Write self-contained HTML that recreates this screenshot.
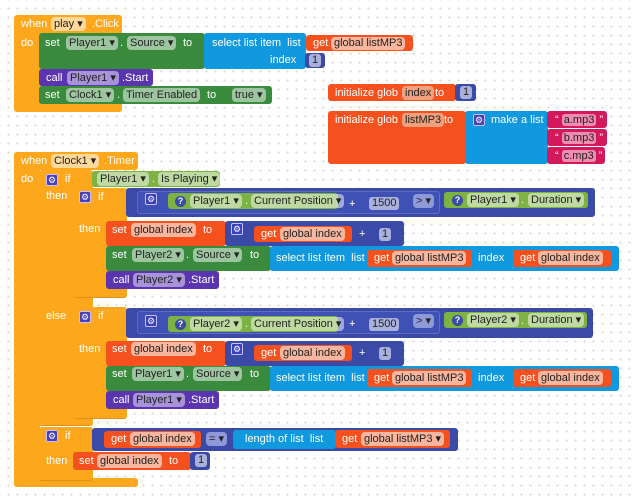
<!DOCTYPE html>
<html><head><meta charset="utf-8"><style>
body{margin:0;width:637px;height:496px;overflow:hidden;background:#fff;
background-image:radial-gradient(circle,#d6d6d6 0.8px,transparent 1.2px);background-size:9px 9px;background-position:4px 4px;
font-family:"Liberation Sans",Arial,sans-serif;position:relative}
.b{position:absolute;border-radius:3px}
.o{background:#fda81c}
.g{background:#3a8b3e}
.lg{background:#7cb342}
.bl{background:#1199e0}
.r{background:#f4511e}
.db{background:#3a4aa6}
.db2{background:#3f51b5;border:1px solid #5c6bc0;box-sizing:border-box}
.p{background:#5b35b0}
.pk{background:#d3195c}
.t{position:absolute;color:#fff;font-size:11px;line-height:14px;white-space:nowrap}
.f{position:absolute;background:rgba(255,255,255,.5);border-radius:4px;color:#222;font-size:11px;line-height:14px;padding:0 3px;white-space:nowrap}
.n{position:absolute;background:#aab0dc;border-radius:3px;color:#222;font-size:11px;line-height:13px;padding:0 3px}
.gear{position:absolute;width:12px;height:12px;background:#4a3fb5;border:1px solid #c9c0ff;border-radius:2px;box-sizing:border-box;color:#fff;font-size:9px;line-height:10px;text-align:center}
.q{position:absolute;width:11px;height:11px;border-radius:50%;background:#3a4aa6;color:#fff;font-size:9px;line-height:11px;text-align:center;font-weight:bold}
</style></head><body>

<!-- when play.Click -->
<div class="b o" style="left:14px;top:15px;width:108px;height:97px"></div>
<div class="t" style="left:21px;top:17px">when</div>
<div class="f" style="left:51px;top:17px;background:#ffd89a">play ▾</div>
<div class="t" style="left:92px;top:17px">.Click</div>
<div class="t" style="left:21px;top:36px">do</div>
<div class="b g" style="left:39px;top:33px;width:166px;height:36px"></div>
<div class="t" style="left:45px;top:36px">set</div>
<div class="f" style="left:66px;top:36px">Player1 ▾</div>
<div class="t" style="left:120px;top:36px">.</div>
<div class="f" style="left:127px;top:36px">Source ▾</div>
<div class="t" style="left:183px;top:36px">to</div>
<div class="b bl" style="left:204px;top:33px;width:102px;height:36px"></div>
<div class="t" style="left:212px;top:36px">select list item &nbsp;list</div>
<div class="t" style="left:270px;top:53px">index</div>
<div class="b r" style="left:306px;top:35px;width:107px;height:16px"></div>
<div class="t" style="left:313px;top:36px">get</div>
<div class="f" style="left:331px;top:37px;background:#f9b69e;line-height:13px">global listMP3</div>
<div class="b db" style="left:305px;top:53px;width:20px;height:15px"></div>
<div class="n" style="left:309px;top:54px">1</div>
<div class="b p" style="left:39px;top:69px;width:114px;height:17px"></div>
<div class="t" style="left:46px;top:71px">call</div>
<div class="f" style="left:67px;top:71px;background:#a893d8">Player1 ▾</div>
<div class="t" style="left:122px;top:71px">.Start</div>
<div class="b g" style="left:39px;top:86px;width:233px;height:18px"></div>
<div class="t" style="left:45px;top:88px">set</div>
<div class="f" style="left:66px;top:88px">Clock1 ▾</div>
<div class="t" style="left:117px;top:88px">.</div>
<div class="f" style="left:123px;top:88px">Timer Enabled</div>
<div class="t" style="left:207px;top:88px">to</div>
<div class="f" style="left:232px;top:88px">true ▾</div>

<!-- globals -->
<div class="b r" style="left:328px;top:84px;width:128px;height:17px"></div>
<div class="t" style="left:335px;top:86px">initialize glob</div>
<div class="f" style="left:402px;top:86px;background:#f0a07c">index</div>
<div class="t" style="left:435px;top:86px">to</div>
<div class="b db" style="left:455px;top:84px;width:21px;height:17px"></div>
<div class="n" style="left:460px;top:86px">1</div>

<div class="b r" style="left:328px;top:111px;width:138px;height:53px"></div>
<div class="t" style="left:335px;top:113px">initialize glob</div>
<div class="f" style="left:402px;top:113px;background:#f0a07c">listMP3</div>
<div class="t" style="left:444px;top:113px">to</div>
<div class="b bl" style="left:465px;top:111px;width:83px;height:53px"></div>
<div class="gear" style="left:473px;top:114px">⚙</div>
<div class="t" style="left:491px;top:113px">make a list</div>
<div class="b pk" style="left:547px;top:111px;width:60px;height:17px"></div>
<div class="b pk" style="left:547px;top:129px;width:60px;height:17px"></div>
<div class="b pk" style="left:547px;top:147px;width:58px;height:17px"></div>
<div class="t" style="left:555px;top:113px">“ <span style="background:#f08cb0;color:#222;border-radius:3px;padding:0 2px">a.mp3</span> ”</div>
<div class="t" style="left:555px;top:131px">“ <span style="background:#f08cb0;color:#222;border-radius:3px;padding:0 2px">b.mp3</span> ”</div>
<div class="t" style="left:555px;top:149px">“ <span style="background:#f08cb0;color:#222;border-radius:3px;padding:0 2px">c.mp3</span> ”</div>

<!-- when Clock1.Timer -->
<div class="b o" style="left:14px;top:152px;width:124px;height:18px"></div>
<div class="b o" style="left:14px;top:152px;width:26px;height:335px"></div>
<div class="b o" style="left:14px;top:478px;width:124px;height:9px"></div>
<div class="t" style="left:21px;top:154px">when</div>
<div class="f" style="left:51px;top:154px;background:#ffd89a">Clock1 ▾</div>
<div class="t" style="left:104px;top:154px">.Timer</div>
<div class="t" style="left:21px;top:172px">do</div>

<!-- main if/else -->
<div class="b o" style="left:39px;top:170px;width:54px;height:255px;border-bottom:1px solid #e0911a"></div>
<div class="gear" style="left:46px;top:174px">⚙</div>
<div class="t" style="left:65px;top:172px">if</div>
<div class="t" style="left:46px;top:189px">then</div>
<div class="t" style="left:46px;top:309px">else</div>
<div class="b lg" style="left:92px;top:171px;width:128px;height:16px"></div>
<div class="f" style="left:97px;top:172px">Player1 ▾</div>
<div class="t" style="left:152px;top:172px">.</div>
<div class="f" style="left:158px;top:172px">Is Playing ▾</div>

<!-- nested if 1 -->
<div class="b o" style="left:73px;top:188px;width:54px;height:109px;border-bottom:1px solid #e0911a"></div>
<div class="gear" style="left:79px;top:191px">⚙</div>
<div class="t" style="left:98px;top:190px">if</div>
<div class="t" style="left:79px;top:222px">then</div>
<div class="b db" style="left:126px;top:188px;width:469px;height:29px"></div>
<div class="b db2" style="left:137px;top:191px;width:303px;height:23px"></div>
<div class="gear" style="left:145px;top:193px;background:#3a3fc0">⚙</div>
<div class="b lg" style="left:168px;top:193px;width:170px;height:16px"></div>
<div class="q" style="left:175px;top:196px">?</div>
<div class="f" style="left:190px;top:194px">Player1 ▾</div>
<div class="t" style="left:245px;top:194px">.</div>
<div class="f" style="left:251px;top:194px">Current Position ▾</div>
<div class="t" style="left:349px;top:197px">+</div>
<div class="n" style="left:369px;top:197px">1500</div>
<div class="f" style="left:413px;top:194px;background:#8f99d8">&gt; ▾</div>
<div class="b lg" style="left:444px;top:192px;width:144px;height:16px"></div>
<div class="q" style="left:452px;top:195px">?</div>
<div class="f" style="left:467px;top:193px">Player1 ▾</div>
<div class="t" style="left:521px;top:193px">.</div>
<div class="f" style="left:528px;top:193px">Duration ▾</div>

<div class="b r" style="left:106px;top:221px;width:120px;height:25px"></div>
<div class="t" style="left:112px;top:223px">set</div>
<div class="f" style="left:131px;top:223px;background:#f9b69e">global index</div>
<div class="t" style="left:203px;top:223px">to</div>
<div class="b db" style="left:225px;top:221px;width:179px;height:25px"></div>
<div class="gear" style="left:231px;top:223px;background:#3a3fc0">⚙</div>
<div class="b r" style="left:254px;top:226px;width:98px;height:16px"></div>
<div class="t" style="left:261px;top:227px">get</div>
<div class="f" style="left:280px;top:227px;background:#f9b69e">global index</div>
<div class="t" style="left:359px;top:227px">+</div>
<div class="n" style="left:379px;top:228px">1</div>

<div class="b g" style="left:106px;top:246px;width:165px;height:25px"></div>
<div class="t" style="left:112px;top:248px">set</div>
<div class="f" style="left:132px;top:248px">Player2 ▾</div>
<div class="t" style="left:186px;top:248px">.</div>
<div class="f" style="left:193px;top:248px">Source ▾</div>
<div class="t" style="left:250px;top:248px">to</div>
<div class="b bl" style="left:270px;top:246px;width:349px;height:25px"></div>
<div class="t" style="left:276px;top:251px">select list item &nbsp;list</div>
<div class="b r" style="left:367px;top:250px;width:105px;height:17px"></div>
<div class="t" style="left:374px;top:251px">get</div>
<div class="f" style="left:392px;top:251px;background:#f9b69e">global listMP3</div>
<div class="t" style="left:478px;top:251px">index</div>
<div class="b r" style="left:513px;top:250px;width:98px;height:17px"></div>
<div class="t" style="left:520px;top:251px">get</div>
<div class="f" style="left:538px;top:251px;background:#f9b69e">global index</div>

<div class="b p" style="left:106px;top:271px;width:113px;height:18px"></div>
<div class="t" style="left:113px;top:273px">call</div>
<div class="f" style="left:133px;top:273px;background:#a893d8">Player2 ▾</div>
<div class="t" style="left:188px;top:273px">.Start</div>

<!-- nested if 2 -->
<div class="b o" style="left:73px;top:307px;width:54px;height:111px;border-bottom:1px solid #e0911a"></div>
<div class="gear" style="left:79px;top:311px">⚙</div>
<div class="t" style="left:98px;top:309px">if</div>
<div class="t" style="left:79px;top:342px">then</div>
<div class="b db" style="left:126px;top:308px;width:467px;height:30px"></div>
<div class="b db2" style="left:137px;top:311px;width:303px;height:23px"></div>
<div class="gear" style="left:145px;top:315px;background:#3a3fc0">⚙</div>
<div class="b lg" style="left:168px;top:316px;width:170px;height:16px"></div>
<div class="q" style="left:175px;top:319px">?</div>
<div class="f" style="left:190px;top:317px">Player2 ▾</div>
<div class="t" style="left:245px;top:317px">.</div>
<div class="f" style="left:251px;top:317px">Current Position ▾</div>
<div class="t" style="left:349px;top:317px">+</div>
<div class="n" style="left:369px;top:318px">1500</div>
<div class="f" style="left:413px;top:314px;background:#8f99d8">&gt; ▾</div>
<div class="b lg" style="left:444px;top:312px;width:143px;height:16px"></div>
<div class="q" style="left:452px;top:315px">?</div>
<div class="f" style="left:467px;top:313px">Player2 ▾</div>
<div class="t" style="left:521px;top:314px">.</div>
<div class="f" style="left:528px;top:313px">Duration ▾</div>

<div class="b r" style="left:106px;top:341px;width:120px;height:25px"></div>
<div class="t" style="left:112px;top:342px">set</div>
<div class="f" style="left:131px;top:342px;background:#f9b69e">global index</div>
<div class="t" style="left:203px;top:342px">to</div>
<div class="b db" style="left:225px;top:341px;width:179px;height:25px"></div>
<div class="gear" style="left:231px;top:343px;background:#3a3fc0">⚙</div>
<div class="b r" style="left:254px;top:345px;width:98px;height:16px"></div>
<div class="t" style="left:261px;top:346px">get</div>
<div class="f" style="left:280px;top:346px;background:#f9b69e">global index</div>
<div class="t" style="left:359px;top:346px">+</div>
<div class="n" style="left:379px;top:347px">1</div>

<div class="b g" style="left:106px;top:366px;width:165px;height:25px"></div>
<div class="t" style="left:112px;top:367px">set</div>
<div class="f" style="left:132px;top:367px">Player1 ▾</div>
<div class="t" style="left:186px;top:367px">.</div>
<div class="f" style="left:193px;top:367px">Source ▾</div>
<div class="t" style="left:250px;top:367px">to</div>
<div class="b bl" style="left:270px;top:366px;width:349px;height:25px"></div>
<div class="t" style="left:276px;top:371px">select list item &nbsp;list</div>
<div class="b r" style="left:367px;top:369px;width:105px;height:18px"></div>
<div class="t" style="left:374px;top:371px">get</div>
<div class="f" style="left:392px;top:371px;background:#f9b69e">global listMP3</div>
<div class="t" style="left:478px;top:371px">index</div>
<div class="b r" style="left:513px;top:369px;width:98px;height:18px"></div>
<div class="t" style="left:520px;top:371px">get</div>
<div class="f" style="left:538px;top:371px;background:#f9b69e">global index</div>

<div class="b p" style="left:106px;top:391px;width:113px;height:18px"></div>
<div class="t" style="left:113px;top:393px">call</div>
<div class="f" style="left:133px;top:393px;background:#a893d8">Player1 ▾</div>
<div class="t" style="left:188px;top:393px">.Start</div>

<!-- third if -->
<div class="b o" style="left:39px;top:427px;width:54px;height:53px;border-bottom:1px solid #e0911a"></div>
<div class="gear" style="left:46px;top:430px">⚙</div>
<div class="t" style="left:65px;top:429px">if</div>
<div class="t" style="left:46px;top:454px">then</div>
<div class="b db" style="left:92px;top:428px;width:366px;height:23px"></div>
<div class="b r" style="left:104px;top:431px;width:97px;height:17px"></div>
<div class="t" style="left:111px;top:432px">get</div>
<div class="f" style="left:130px;top:432px;background:#f9b69e">global index</div>
<div class="f" style="left:206px;top:432px;background:#8f99d8">= ▾</div>
<div class="b bl" style="left:233px;top:430px;width:103px;height:19px"></div>
<div class="t" style="left:245px;top:432px">length of list &nbsp;list</div>
<div class="b r" style="left:335px;top:430px;width:115px;height:18px"></div>
<div class="t" style="left:342px;top:432px">get</div>
<div class="f" style="left:361px;top:432px;background:#f9b69e">global listMP3 ▾</div>

<div class="b r" style="left:73px;top:452px;width:118px;height:18px"></div>
<div class="t" style="left:79px;top:454px">set</div>
<div class="f" style="left:97px;top:454px;background:#f9b69e">global index</div>
<div class="t" style="left:169px;top:454px">to</div>
<div class="b db" style="left:190px;top:452px;width:20px;height:18px"></div>
<div class="n" style="left:195px;top:454px">1</div>

</body></html>
